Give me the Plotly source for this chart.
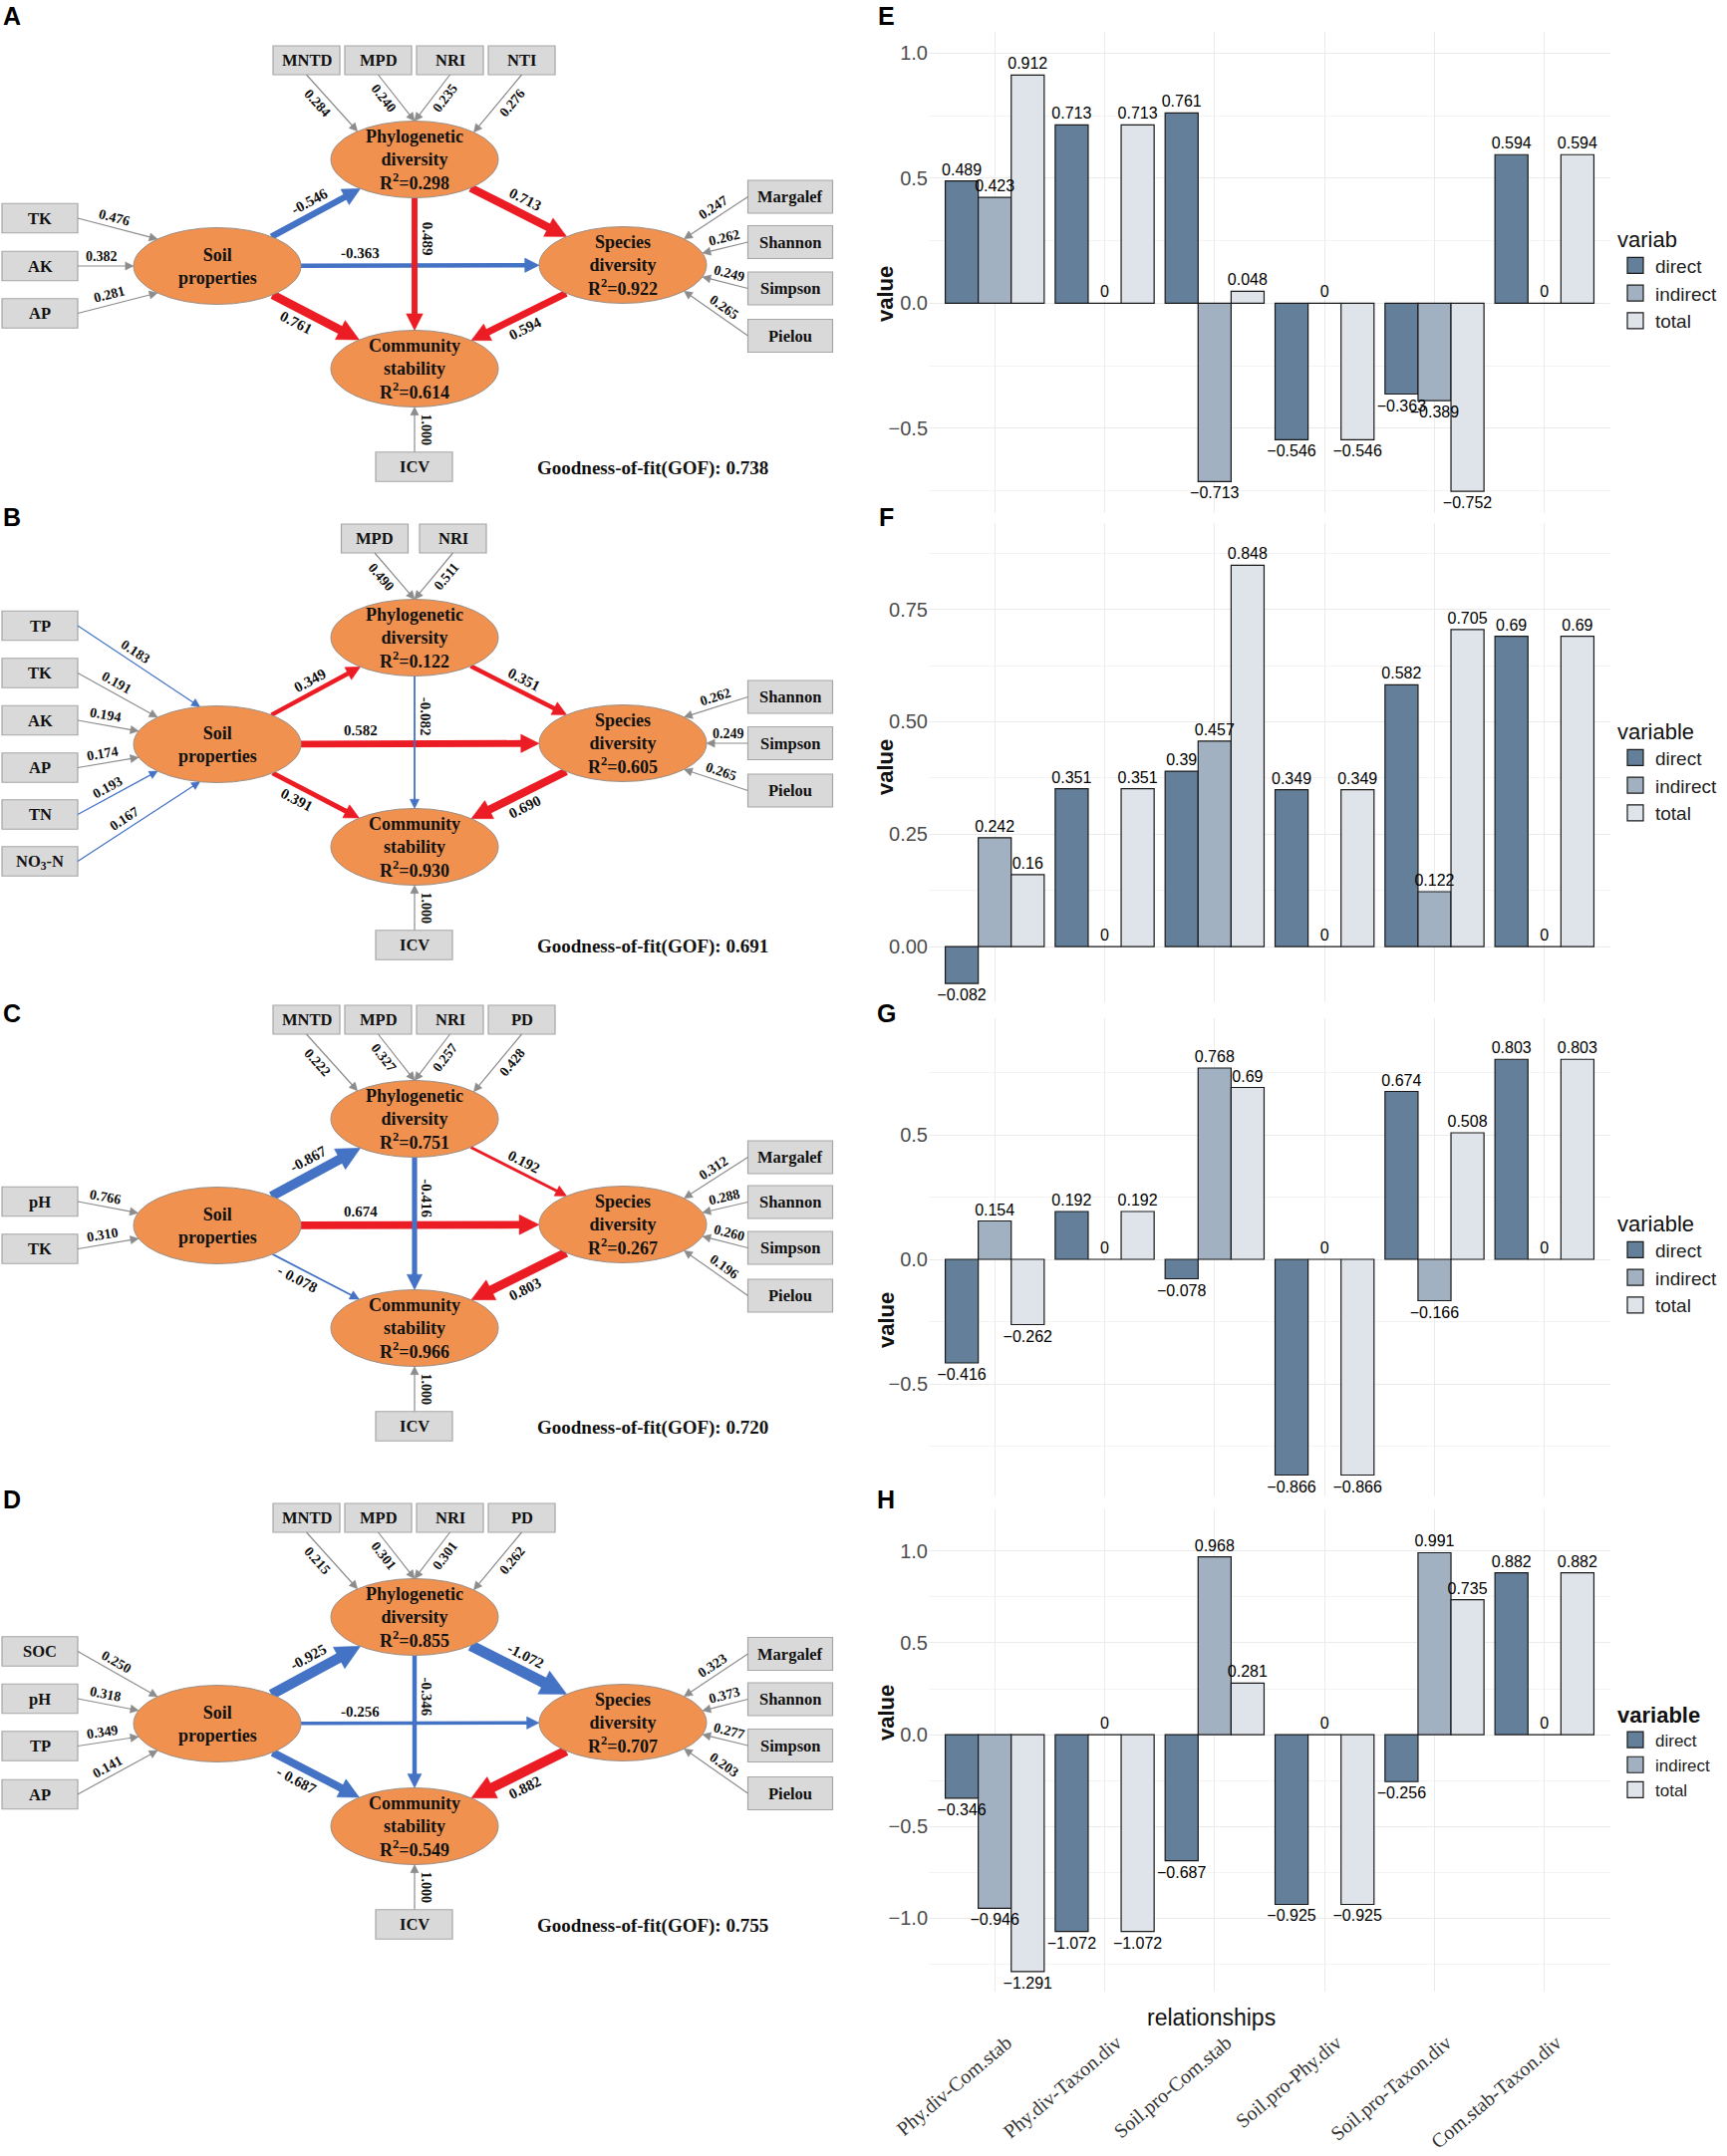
import math
import plotly.graph_objects as go

W, H = 1733, 2164
SERIF = "Liberation Serif, 'Times New Roman', serif"
SANS = "Liberation Sans, Arial, Helvetica, sans-serif"

# ================= DATA: effect decomposition (panels E-H) =================
relationships = ["Phy.div-Com.stab", "Phy.div-Taxon.div", "Soil.pro-Com.stab",
                 "Soil.pro-Phy.div", "Soil.pro-Taxon.div", "Com.stab-Taxon.div"]
effect_types = ["direct", "indirect", "total"]

E_direct = [0.489, 0.713, 0.761, -0.546, -0.363, 0.594]
E_indirect = [0.423, 0, -0.713, 0, -0.389, 0]
E_total = [0.912, 0.713, 0.048, -0.546, -0.752, 0.594]

F_direct = [-0.082, 0.351, 0.39, 0.349, 0.582, 0.69]
F_indirect = [0.242, 0, 0.457, 0, 0.122, 0]
F_total = [0.16, 0.351, 0.848, 0.349, 0.705, 0.69]

G_direct = [-0.416, 0.192, -0.078, -0.866, 0.674, 0.803]
G_indirect = [0.154, 0, 0.768, 0, -0.166, 0]
G_total = [-0.262, 0.192, 0.69, -0.866, 0.508, 0.803]

H_direct = [-0.346, -1.072, -0.687, -0.925, -0.256, 0.882]
H_indirect = [-0.946, 0, 0.968, 0, 0.991, 0]
H_total = [-1.291, -1.072, 0.281, -0.925, 0.735, 0.882]

# ================= DATA: PLS-PM path models (panels A-D) =================
# path order: Soil->Phylo, Soil->Species, Soil->Community, Phylo->Species, Phylo->Community, Species->Community
A_phylo_ind = ["MNTD", "MPD", "NRI", "NTI"]
A_phylo_load = [0.284, 0.240, 0.235, 0.276]
A_soil_ind = ["TK", "AK", "AP"]
A_soil_load = [0.476, 0.382, 0.281]
A_taxon_ind = ["Margalef", "Shannon", "Simpson", "Pielou"]
A_taxon_load = [0.247, 0.262, 0.249, 0.265]
A_paths = [-0.546, -0.363, 0.761, 0.713, 0.489, 0.594]
A_r2 = [0.298, 0.922, 0.614]
A_icv = 1.000
A_gof = 0.738

B_phylo_ind = ["MPD", "NRI"]
B_phylo_load = [0.490, 0.511]
B_soil_ind = ["TP", "TK", "AK", "AP", "TN", "NO<sub>3</sub>-N"]
B_soil_load = [0.183, 0.191, 0.194, 0.174, 0.193, 0.167]
B_taxon_ind = ["Shannon", "Simpson", "Pielou"]
B_taxon_load = [0.262, 0.249, 0.265]
B_paths = [0.349, 0.582, 0.391, 0.351, -0.082, 0.690]
B_r2 = [0.122, 0.605, 0.930]
B_icv = 1.000
B_gof = 0.691

C_phylo_ind = ["MNTD", "MPD", "NRI", "PD"]
C_phylo_load = [0.222, 0.327, 0.257, 0.428]
C_soil_ind = ["pH", "TK"]
C_soil_load = [0.766, 0.310]
C_taxon_ind = ["Margalef", "Shannon", "Simpson", "Pielou"]
C_taxon_load = [0.312, 0.288, 0.260, 0.196]
C_paths = [-0.867, 0.674, -0.078, 0.192, -0.416, 0.803]
C_r2 = [0.751, 0.267, 0.966]
C_icv = 1.000
C_gof = 0.720

D_phylo_ind = ["MNTD", "MPD", "NRI", "PD"]
D_phylo_load = [0.215, 0.301, 0.301, 0.262]
D_soil_ind = ["SOC", "pH", "TP", "AP"]
D_soil_load = [0.250, 0.318, 0.349, 0.141]
D_taxon_ind = ["Margalef", "Shannon", "Simpson", "Pielou"]
D_taxon_load = [0.323, 0.373, 0.277, 0.203]
D_paths = [-0.925, -0.256, -0.687, -1.072, -0.346, 0.882]
D_r2 = [0.855, 0.707, 0.549]
D_icv = 1.000
D_gof = 0.755

# ================= STYLE / LAYOUT CONSTANTS =================
RED, BLUE, GRAY = "#EC1C24", "#4472C4", "#8C8C8C"
ELL_FILL, ELL_LINE = "#F0914F", "#9C8F86"
BOX_FILL, BOX_LINE = "#D9D9D9", "#A6A6A6"
BAR_COLORS = {"direct": "#637F99", "indirect": "#A2B1C1", "total": "#DFE3EA"}
RX, RY = 84, 38.5
NODE = {"soil": (218, 267), "phy": (416, 160), "sp": (625, 266), "com": (416, 370)}
EDGES = [("soil", "phy"), ("soil", "sp"), ("soil", "com"), ("phy", "sp"), ("phy", "com"), ("sp", "com")]
EDGE_T = [0.5, 0.25, 0.35, 0.5, 0.31, 0.5]
EDGE_SIDE = [1, 1, -1, 1, 1, -1]

shapes, annotations = [], []


def ell_pt(c, ang):
    a = math.radians(ang)
    return (c[0] + RX * math.cos(a), c[1] + RY * math.sin(a))


def edge_toward(c, p):
    dx, dy = p[0] - c[0], p[1] - c[1]
    t = 1.0 / math.sqrt((dx / RX) ** 2 + (dy / RY) ** 2)
    return (c[0] + t * dx, c[1] + t * dy)


def arrow(tail, head, color, width):
    """Line + filled triangular head, drawn as shapes on the pixel canvas axes."""
    dx, dy = head[0] - tail[0], head[1] - tail[1]
    d = math.hypot(dx, dy)
    ux, uy = dx / d, dy / d
    hl = 6.0 + 1.8 * width          # head length
    hw = hl * 0.5                   # half head width
    bx, by = head[0] - ux * hl, head[1] - uy * hl
    shapes.append(dict(type="line", xref="x5", yref="y5", x0=tail[0], y0=tail[1],
                       x1=bx + ux * 1.0, y1=by + uy * 1.0, line=dict(color=color, width=width)))
    p1 = (bx - uy * hw, by + ux * hw)
    p2 = (bx + uy * hw, by - ux * hw)
    shapes.append(dict(type="path", xref="x5", yref="y5",
                       path=f"M{head[0]:.2f},{head[1]:.2f} L{p1[0]:.2f},{p1[1]:.2f} L{p2[0]:.2f},{p2[1]:.2f} Z",
                       fillcolor=color, line=dict(color=color, width=0.5)))


def along_label(tail, head, text, t, side, off, size):
    dx, dy = head[0] - tail[0], head[1] - tail[1]
    ang = math.degrees(math.atan2(dy, dx))
    if ang > 90:
        ang -= 180
    elif ang <= -90:
        ang += 180
    th = math.radians(ang)
    ux, uy = math.sin(th), -math.cos(th)
    annotations.append(dict(x=tail[0] + t * dx + side * off * ux, y=tail[1] + t * dy + side * off * uy,
                            xref="x5", yref="y5", text=f"<b>{text}</b>", showarrow=False,
                            textangle=ang, font=dict(family=SERIF, size=size, color="#111")))


def box(cx, cy, w, h, label, size=16.5):
    shapes.append(dict(type="rect", xref="x5", yref="y5", x0=cx - w / 2, x1=cx + w / 2,
                       y0=cy - h / 2, y1=cy + h / 2, fillcolor=BOX_FILL,
                       line=dict(color=BOX_LINE, width=1.2)))
    annotations.append(dict(x=cx, y=cy, xref="x5", yref="y5", text=f"<b>{label}</b>",
                            showarrow=False, font=dict(family=SERIF, size=size, color="#111")))


def draw_sem(dy, phylo_ind, phylo_load, soil_ind, soil_load, tax_ind, tax_load, paths, r2, icv, gof,
             top_x, top_ang, left_y, left_ang, right_y, right_ang, left_colors=None, path_text=None):
    N = {k: (v[0], v[1] + dy) for k, v in NODE.items()}
    # indicator boxes of phylogenetic diversity (top)
    for name, ld, bx, ang in zip(phylo_ind, phylo_load, top_x, top_ang):
        box(bx, 60.5 + dy, 67, 29, name)
        tail, head = (bx, 75 + dy), ell_pt(N["phy"], ang)
        arrow(tail, head, GRAY, 1.2)
        along_label(tail, head, f"{ld:.3f}", 0.37, -1, 10.5, 14)
    # soil indicators (left)
    for i, (name, ld, by, ang) in enumerate(zip(soil_ind, soil_load, left_y, left_ang)):
        box(40, by, 76, 29.5, name)
        col = GRAY if left_colors is None else left_colors[i]
        tail, head = (78, by), ell_pt(N["soil"], ang)
        arrow(tail, head, col, 1.2)
        along_label(tail, head, f"{ld:.3f}", 0.43, 1, 10, 14)
    # taxonomic diversity indicators (right)
    for name, ld, by, ang in zip(tax_ind, tax_load, right_y, right_ang):
        box(793, by, 85, 33, name)
        tail, head = (750.5, by), ell_pt(N["sp"], ang)
        arrow(tail, head, GRAY, 1.2)
        along_label(tail, head, f"{ld:.3f}", 0.46, 1, 10, 14)
    # ICV indicator (community stability)
    box(415.5, 468.5 + dy, 77, 29.5, "ICV")
    tail, head = (416, 453.5 + dy), (416, N["com"][1] + RY)
    arrow(tail, head, GRAY, 1.2)
    along_label(tail, head, f"{icv:.3f}", 0.5, 1, 11.5, 14)
    # structural paths
    for k, ((a, b), v) in enumerate(zip(EDGES, paths)):
        w = min(11.0, 1.0 + 10.0 * abs(v))
        tail, head = edge_toward(N[a], N[b]), edge_toward(N[b], N[a])
        arrow(tail, head, RED if v > 0 else BLUE, w)
        lab = path_text.get(k, f"{v:.3f}") if path_text else f"{v:.3f}"
        along_label(tail, head, lab, EDGE_T[k], EDGE_SIDE[k], 10 + w / 2, 15)
    # latent variables
    texts = {"soil": "Soil<br>properties",
             "phy": f"Phylogenetic<br>diversity<br>R<sup>2</sup>={r2[0]:.3f}",
             "sp": f"Species<br>diversity<br>R<sup>2</sup>={r2[1]:.3f}",
             "com": f"Community<br>stability<br>R<sup>2</sup>={r2[2]:.3f}"}
    for k, (cx, cy) in N.items():
        shapes.append(dict(type="circle", xref="x5", yref="y5", x0=cx - RX, x1=cx + RX,
                           y0=cy - RY, y1=cy + RY, fillcolor=ELL_FILL, line=dict(color=ELL_LINE, width=1)))
        annotations.append(dict(x=cx, y=cy, xref="x5", yref="y5", text=f"<b>{texts[k]}</b>",
                                showarrow=False, font=dict(family=SERIF, size=18, color="#111")))
    annotations.append(dict(x=655, y=470 + dy, xref="x5", yref="y5",
                            text=f"<b>Goodness-of-fit(GOF): {gof:.3f}</b>", showarrow=False,
                            font=dict(family=SERIF, size=19, color="#111")))


TOP4_X, TOP2_X = [307.5, 379.5, 451.5, 523.5], [376, 454.5]
TOP4_ANG, TOP2_ANG = [227, 270, 270, 315], [270, 270]
RIGHT4_ANG = [-43, -18, 18, 43]

draw_sem(0, A_phylo_ind, A_phylo_load, A_soil_ind, A_soil_load, A_taxon_ind, A_taxon_load,
         A_paths, A_r2, A_icv, A_gof, TOP4_X, TOP4_ANG,
         [219, 267, 314.5], [224.5, 180, 135.5], [197.5, 243, 289.5, 337], RIGHT4_ANG)
draw_sem(480, B_phylo_ind, B_phylo_load, B_soil_ind, B_soil_load, B_taxon_ind, B_taxon_load,
         B_paths, B_r2, B_icv, B_gof, TOP2_X, TOP2_ANG,
         [628, 675.5, 723, 770.5, 817.5, 864.5], [258, 224.5, 200, 160, 135.5, 102],
         [699.5, 746, 793.5], [-43, 0, 43],
         left_colors=[BLUE, GRAY, GRAY, GRAY, BLUE, BLUE])
draw_sem(963, C_phylo_ind, C_phylo_load, C_soil_ind, C_soil_load, C_taxon_ind, C_taxon_load,
         C_paths, C_r2, C_icv, C_gof, TOP4_X, TOP4_ANG,
         [1206, 1253.5], [199, 160], [1161.5, 1206.5, 1252.5, 1300.5], RIGHT4_ANG,
         path_text={2: "- 0.078"})
draw_sem(1463, D_phylo_ind, D_phylo_load, D_soil_ind, D_soil_load, D_taxon_ind, D_taxon_load,
         D_paths, D_r2, D_icv, D_gof, TOP4_X, TOP4_ANG,
         [1657.5, 1705, 1752.5, 1801], [224.5, 200, 160, 135.5],
         [1660, 1705.5, 1752, 1800], RIGHT4_ANG,
         path_text={2: "- 0.687"})

# panel letters
ROW_Y = [16, 519, 1017, 1505]
for letter, y in zip("ABCD", ROW_Y):
    annotations.append(dict(x=12, y=y, xref="x5", yref="y5", text=f"<b>{letter}</b>", showarrow=False,
                            font=dict(family=SANS, size=25, color="black")))
for letter, y in zip("EFGH", ROW_Y):
    annotations.append(dict(x=889, y=y, xref="x5", yref="y5", text=f"<b>{letter}</b>", showarrow=False,
                            font=dict(family=SANS, size=25, color="black")))

# ================= BAR CHARTS (E-H) =================
fig = go.Figure()


def num_label(v):
    s = "0" if v == 0 else f"{v:.3f}".rstrip("0").rstrip(".")
    return s.replace("-", "\u2212")


bar_sets = [[E_direct, E_indirect, E_total], [F_direct, F_indirect, F_total],
            [G_direct, G_indirect, G_total], [H_direct, H_indirect, H_total]]
axis_ids = [("x", "y"), ("x2", "y2"), ("x3", "y3"), ("x4", "y4")]
legend_ids = ["legend", "legend2", "legend3", "legend4"]

for (xa, ya), lg, series in zip(axis_ids, legend_ids, bar_sets):
    # filled bars
    for eff, vals in zip(effect_types, series):
        fig.add_trace(go.Bar(
            x=relationships, y=vals, name=eff, xaxis=xa, yaxis=ya, offsetgroup=eff,
            marker=dict(color=BAR_COLORS[eff], line=dict(color="#1a1a1a", width=1.2)),
            showlegend=False, hoverinfo="skip"))
    # value labels drawn on top of every bar (same dodge positions)
    for eff, vals in zip(effect_types, series):
        fig.add_trace(go.Bar(
            x=relationships, y=vals, name=eff, xaxis=xa, yaxis=ya, offsetgroup=eff,
            marker=dict(color="rgba(0,0,0,0)", line=dict(width=0)),
            text=[num_label(v) for v in vals], textposition="outside", constraintext="none",
            cliponaxis=False, textfont=dict(family=SANS, size=16, color="black"),
            showlegend=False, hoverinfo="skip"))
    # legend keys
    for eff in effect_types:
        fig.add_trace(go.Scatter(
            x=[None], y=[None], mode="markers", name=eff, xaxis=xa, yaxis=ya, legend=lg,
            marker=dict(symbol="square", size=22, color=BAR_COLORS[eff],
                        line=dict(color="#1a1a1a", width=1.2)),
            hoverinfo="skip"))

PLOT_X = [932 / W, 1616 / W]
panel_px = [(32, 515), (525, 1006), (1022, 1502), (1515, 1999)]
y_ranges = [(-0.839, 1.085), (-0.124, 0.942), (-0.952, 0.968), (-1.40, 1.227)]
y_dticks = [0.5, 0.25, 0.5, 0.5]
y_formats = [".1f", ".2f", ".1f", ".1f"]

layout = dict(width=W, height=H, margin=dict(l=0, r=0, t=0, b=0, autoexpand=False), autosize=False,
              paper_bgcolor="white", plot_bgcolor="rgba(0,0,0,0)", barmode="group",
              bargap=0.1, bargroupgap=0, font=dict(family=SANS, color="#222"))

for i, ((xa, ya), (top, bot), yr, dt, tf) in enumerate(zip(axis_ids, panel_px, y_ranges, y_dticks, y_formats)):
    xk = "xaxis" if i == 0 else f"xaxis{i + 1}"
    yk = "yaxis" if i == 0 else f"yaxis{i + 1}"
    layout[xk] = dict(domain=PLOT_X, anchor=ya, type="category", range=[-0.6, 5.6],
                      showgrid=True, gridcolor="#EBEBEB", gridwidth=1.2, zeroline=False,
                      showline=False, ticks="", showticklabels=(i == 3), fixedrange=True,
                      automargin=False)
    layout[yk] = dict(domain=[1 - bot / H, 1 - top / H], anchor=xa, range=list(yr), dtick=dt, tick0=0,
                      tickformat=tf, showgrid=True, gridcolor="#EBEBEB", gridwidth=1.2,
                      minor=dict(dtick=dt / 2, tick0=0, showgrid=True, gridcolor="#F3F3F3", gridwidth=0.8),
                      zeroline=False, showline=False, ticks="", fixedrange=True, automargin=False,
                      tickfont=dict(family=SANS, size=20, color="#4D4D4D"))

layout["xaxis4"].update(tickangle=-40, tickfont=dict(family=SERIF, size=20, color="#333"),
                        ticklabelstandoff=35, ticklabelshift=12)

# overlay canvas axes for the path diagrams (1 unit = 1 px)
layout["xaxis5"] = dict(domain=[0, 1], anchor="y5", range=[0, W], visible=False, fixedrange=True,
                        automargin=False)
layout["yaxis5"] = dict(domain=[0, 1], anchor="x5", range=[H, 0], visible=False, fixedrange=True,
                        automargin=False)

# legends
leg_common = dict(bgcolor="rgba(0,0,0,0)", xanchor="left", yanchor="top", itemwidth=30,
                  tracegroupgap=0, itemclick=False, itemdoubleclick=False, itemsizing="trace")
leg_specs = [("variab", 219, 19, 22, False), ("variable", 713, 19, 22, False),
             ("variable", 1207, 19, 22, False), ("variable", 1700, 17, 22, True)]
for lg, (title, ytop, fs, tfs, bold) in zip(legend_ids, leg_specs):
    layout[lg] = dict(x=1621 / W, y=1 - ytop / H,
                      title=dict(text=f"<b>{title}</b>" if bold else title,
                                 font=dict(family=SANS, size=tfs, color="#111")),
                      font=dict(family=SANS, size=fs, color="#222"), **leg_common)

# axis titles as text
for yc in [265, 770, 1325, 1749]:
    annotations.append(dict(x=889 / W, y=1 - yc / H, xref="paper", yref="paper", text="<b>value</b>",
                            showarrow=False, textangle=-90, font=dict(family=SANS, size=22, color="#111")))
annotations.append(dict(x=1282 / W, y=1 - 2040 / H, xref="paper", yref="paper", text="relationships",
                        showarrow=False, font=dict(family=SANS, size=23, color="#111")))

layout["shapes"] = shapes
layout["annotations"] = annotations
fig.update_layout(**layout)

fig.write_html("out.html", config={"displayModeBar": False},
               post_script="document.body.style.margin='0px';")
